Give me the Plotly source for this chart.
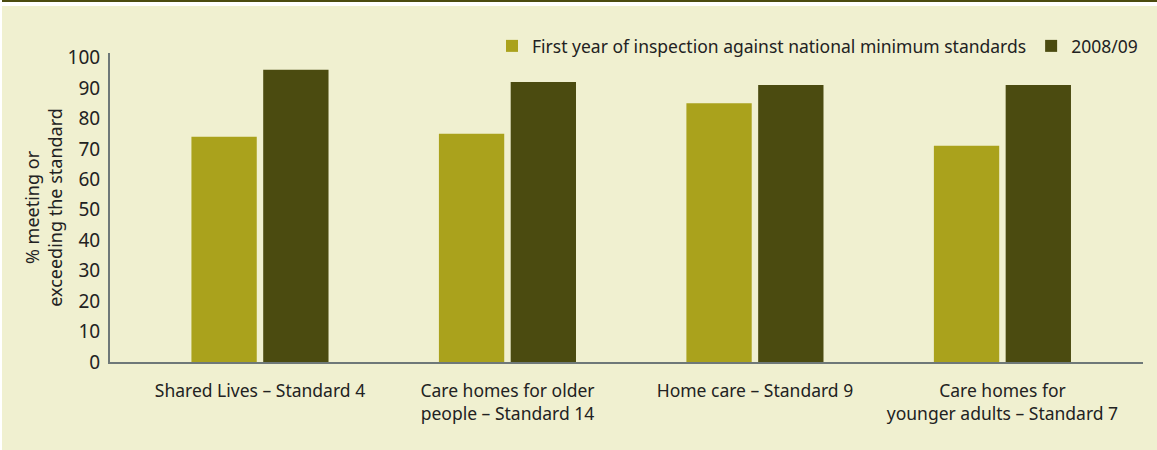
import plotly.graph_objects as go

categories = [
    "Shared Lives – Standard 4",
    "Care homes for older<br>people – Standard 14",
    "Home care – Standard 9",
    "Care homes for<br>younger adults – Standard 7",
]
first_year = [74, 75, 85, 71]
year_2008 = [96, 92, 91, 91]
y_ticks = list(range(0, 101, 10))

BG = "#f0f0d0"
LIGHT = "#aaa21c"
DARK = "#4b4b10"
FONT = "Noto Sans"

W, H = 1157, 450
L, R, T, B = 110, 14, 53, 88
PW, PH = W - L - R, H - T - B


def px_x(p):
    return (p - L) / PW


def px_y(p):
    return (H - B - p) / PH


fig = go.Figure()
fig.add_trace(go.Bar(x=categories, y=first_year, name="First year of inspection against national minimum standards",
                     marker_color=LIGHT, marker_line_width=0))
fig.add_trace(go.Bar(x=categories, y=year_2008, name="2008/09",
                     marker_color=DARK, marker_line_width=0))

fig.update_layout(
    width=W, height=H, margin=dict(l=L, r=R, t=T, b=B),
    paper_bgcolor=BG, plot_bgcolor=BG,
    barmode="group", bargap=0.42, bargroupgap=0.09,
    font=dict(family=FONT, size=17, color="#222222"),
    showlegend=True,
    legend=dict(orientation="h", x=1.0, xanchor="right", y=px_y(46), yanchor="middle",
                bgcolor="rgba(0,0,0,0)", font=dict(size=17.5), itemwidth=30,
                traceorder="normal"),
    xaxis=dict(range=[-0.606, 3.568], showline=True, linecolor="#6e7878", linewidth=2,
               ticks="", showgrid=False, zeroline=False, tickfont=dict(size=17.5),
               ticklabelstandoff=12),
    yaxis=dict(range=[0, 101.5], tickvals=y_ticks, showline=True, linecolor="#6e7878",
               linewidth=2, ticks="", showgrid=False, zeroline=False,
               tickfont=dict(size=19), ticklabelstandoff=4,
               title=dict(text="% meeting or<br>exceeding the standard", font=dict(size=18), standoff=0)),
    shapes=[
        dict(type="rect", xref="paper", yref="paper", x0=px_x(0), x1=px_x(W),
             y0=px_y(6), y1=px_y(0), fillcolor="white", line_width=0),
        dict(type="rect", xref="paper", yref="paper", x0=px_x(0), x1=px_x(W),
             y0=px_y(2), y1=px_y(0), fillcolor=DARK, line_width=0),
        dict(type="rect", xref="paper", yref="paper", x0=px_x(0), x1=px_x(2),
             y0=px_y(H), y1=px_y(0), fillcolor="white", line_width=0),
    ],
)

fig.write_html("out.html", config={"displayModeBar": False},
               post_script="document.body.style.margin='0';")
